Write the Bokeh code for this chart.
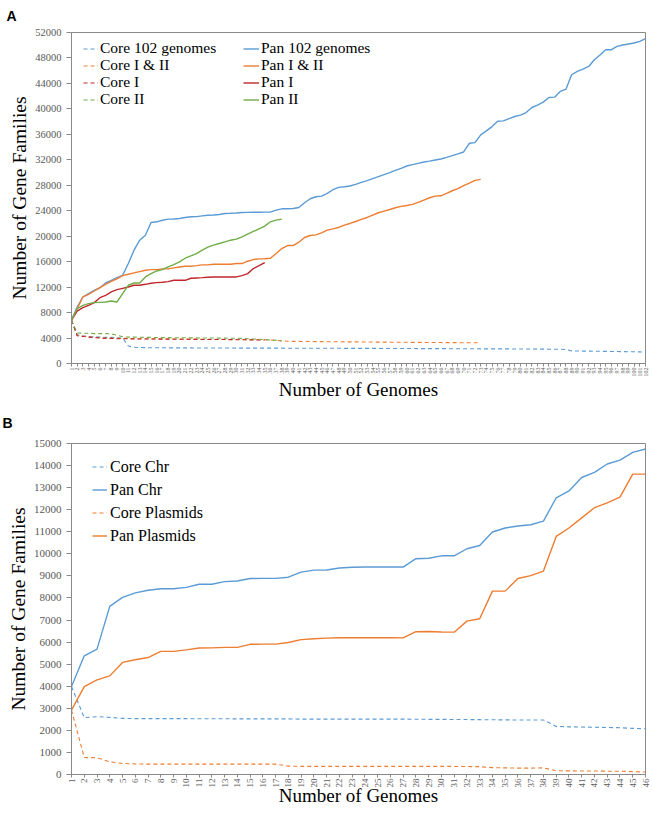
import math
from bokeh.plotting import figure
from bokeh.models import Range1d, FixedTicker, Legend, LegendItem, Title
from bokeh.layouts import column
from bokeh.embed import file_html
from bokeh.resources import INLINE

# ---------------- Panel A data ----------------
genomes_a = list(range(1, 103))
y_ticks_a = [0, 4000, 8000, 12000, 16000, 20000, 24000, 28000, 32000, 36000, 40000, 44000, 48000, 52000]

pan_102 = [6800, 8870, 10450, 10970, 11500, 11900, 12650, 13070, 13490, 13860,
           15700, 17800, 19370, 20160, 22150, 22260, 22500, 22680, 22700, 22780,
           22940, 23050, 23080, 23200, 23300, 23320, 23400, 23570, 23600, 23650,
           23730, 23740, 23760, 23770, 23780, 23780, 24100, 24300, 24320, 24360,
           24500, 25250, 25880, 26200, 26300, 26720, 27300, 27670, 27770, 27880,
           28140, 28460, 28720, 29030, 29350, 29660, 29980, 30350, 30660, 31030,
           31240, 31450, 31660, 31800, 31970, 32130, 32390, 32660, 32920, 33230,
           34600, 34700, 35910, 36540, 37220, 38060, 38120, 38480, 38800, 39010,
           39430, 40220, 40580, 41060, 41790, 41840, 42740, 43100, 45360, 45890,
           46250, 46670, 47720, 48460, 49300, 49300, 49820, 50030, 50190, 50350,
           50610, 51030]
core_102 = [6800, 4500, 4350, 4250, 4200, 4150, 4100, 4100, 4050, 4000,
            2750, 2560, 2510, 2490, 2480, 2470, 2470, 2460, 2460, 2450,
            2450, 2450, 2440, 2440, 2440, 2430, 2430, 2430, 2430, 2420,
            2420, 2420, 2420, 2420, 2410, 2410, 2410, 2410, 2400, 2400,
            2400, 2400, 2400, 2400, 2390, 2390, 2390, 2390, 2380, 2380,
            2380, 2380, 2370, 2370, 2370, 2360, 2360, 2360, 2350, 2350,
            2350, 2340, 2340, 2340, 2330, 2330, 2330, 2320, 2320, 2320,
            2310, 2310, 2300, 2300, 2300, 2290, 2290, 2290, 2280, 2280,
            2270, 2270, 2260, 2260, 2250, 2250, 2240, 2200, 1980, 1960,
            1950, 1940, 1930, 1920, 1900, 1890, 1880, 1860, 1850, 1840,
            1820, 1800]
pan_12 = [6800, 8600, 10450, 10870, 11390, 11920, 12440, 12920, 13280, 13800,
          14020, 14230, 14440, 14650, 14750, 14750, 14860, 14860, 15020, 15170,
          15280, 15280, 15380, 15490, 15500, 15590, 15600, 15600, 15600, 15700,
          15700, 16070, 16330, 16430, 16450, 16540, 17270, 18060, 18530, 18530,
          19060, 19790, 20110, 20210, 20530, 20950, 21150, 21370, 21740, 22000,
          22310, 22630, 22940, 23310, 23680, 23940, 24200, 24470, 24680, 24830,
          24990, 25300, 25670, 26040, 26300, 26350, 26720, 27140, 27460, 27930,
          28350, 28770, 28920]
core_12 = [6800, 4400, 4300, 4200, 4100, 4050, 4000, 4000, 3950, 3950,
           3920, 3900, 3900, 3880, 3880, 3870, 3860, 3850, 3850, 3840,
           3830, 3830, 3820, 3810, 3800, 3800, 3790, 3780, 3780, 3770,
           3760, 3750, 3740, 3730, 3720, 3700, 3650, 3550, 3500, 3480,
           3470, 3460, 3450, 3440, 3430, 3420, 3420, 3410, 3400, 3400,
           3390, 3380, 3380, 3370, 3360, 3360, 3350, 3340, 3340, 3330,
           3320, 3320, 3310, 3300, 3300, 3290, 3280, 3280, 3270, 3260,
           3260, 3250, 3250]
pan_1 = [6800, 8240, 8770, 9140, 9560, 10340, 10710, 11240, 11600, 11810,
         12020, 12290, 12290, 12440, 12600, 12700, 12760, 12860, 13070, 13070,
         13070, 13390, 13440, 13490, 13550, 13600, 13600, 13600, 13600, 13600,
         13800, 14120, 14910, 15380, 15860]
core_1 = [6800, 4350, 4250, 4150, 4050, 4000, 3950, 3950, 3900, 3900,
          3880, 3870, 3860, 3850, 3850, 3840, 3830, 3830, 3820, 3810,
          3800, 3800, 3790, 3780, 3780, 3770, 3760, 3760, 3750, 3740,
          3730, 3720, 3710, 3700, 3690]
pan_2 = [6800, 8600, 9140, 9400, 9560, 9610, 9660, 9820, 9660, 10970,
         12290, 12650, 12650, 13600, 14120, 14540, 14750, 15170, 15540, 15960,
         16540, 16900, 17270, 17800, 18270, 18590, 18850, 19110, 19370, 19530,
         19900, 20320, 20740, 21160, 21580, 22260, 22520, 22680]
core_2 = [6800, 4800, 4750, 4750, 4700, 4700, 4700, 4650, 4450, 4200,
          4150, 4150, 4120, 4100, 4100, 4080, 4070, 4060, 4050, 4050,
          4040, 4030, 4020, 4010, 4000, 4000, 3990, 3980, 3970, 3960,
          3950, 3900, 3850, 3800, 3750, 3700, 3650, 3600]

# ---------------- Panel B data ----------------
genomes_b = list(range(1, 47))
y_ticks_b = [0, 1000, 2000, 3000, 4000, 5000, 6000, 7000, 8000, 9000, 10000,
             11000, 12000, 13000, 14000, 15000]
pan_chr = [3985, 5380, 5680, 7620, 8030, 8230, 8350, 8420, 8420, 8480,
           8620, 8620, 8740, 8770, 8880, 8890, 8890, 8940, 9170, 9260,
           9270, 9360, 9390, 9400, 9400, 9400, 9400, 9780, 9800, 9910,
           9910, 10230, 10380, 10990, 11170, 11260, 11320, 11480, 12540, 12850,
           13460, 13690, 14070, 14250, 14600, 14750]
core_chr = [3985, 2575, 2620, 2590, 2545, 2530, 2530, 2530, 2530, 2530,
            2525, 2525, 2525, 2520, 2520, 2520, 2520, 2520, 2510, 2510,
            2510, 2510, 2510, 2510, 2510, 2510, 2510, 2505, 2500, 2500,
            2490, 2490, 2485, 2480, 2475, 2470, 2470, 2470, 2180, 2160,
            2150, 2140, 2130, 2120, 2090, 2070]
pan_pl = [2920, 3985, 4290, 4470, 5080, 5200, 5300, 5580, 5580, 5650,
          5730, 5740, 5760, 5760, 5900, 5910, 5910, 5980, 6110, 6150,
          6180, 6200, 6200, 6200, 6200, 6200, 6190, 6470, 6480, 6460,
          6450, 6950, 7060, 8310, 8310, 8880, 9010, 9220, 10790, 11170,
          11630, 12090, 12310, 12570, 13610, 13610]
core_pl = [2920, 770, 760, 575, 500, 480, 470, 470, 470, 470,
           470, 470, 470, 470, 470, 470, 470, 380, 370, 370,
           370, 370, 370, 370, 370, 370, 370, 370, 370, 370,
           365, 360, 355, 310, 300, 290, 290, 300, 170, 165,
           160, 160, 150, 150, 130, 110]

BLUE = "#5B9BD5"
ORANGE = "#ED7D31"
RED = "#C0282D"
GREEN = "#70AD47"
AXIS = "#898989"
TICKTXT = "#595959"
SERIF = "Liberation Serif"
DASH = "4 3"


def style(p, xticks, yticks, xlab_size, ylab_size, xtick_size, ytick_size, xlab_standoff):
    p.xgrid.visible = False
    p.ygrid.visible = False
    p.outline_line_color = AXIS
    p.outline_line_width = 1
    for ax in (p.xaxis[0], p.yaxis[0]):
        ax.axis_line_color = AXIS
        ax.major_tick_line_color = AXIS
        ax.minor_tick_line_color = None
        ax.major_label_text_color = TICKTXT
        ax.major_label_text_font = SERIF
        ax.axis_label_text_font = SERIF
        ax.axis_label_text_font_style = "normal"
        ax.axis_label_text_color = "black"
        ax.major_tick_in = 0
    p.xaxis.ticker = FixedTicker(ticks=xticks)
    p.yaxis.ticker = FixedTicker(ticks=yticks)
    p.xaxis.major_label_orientation = math.pi / 2
    p.xaxis.major_label_text_font_size = xtick_size
    p.yaxis.major_label_text_font_size = ytick_size
    p.xaxis.major_tick_out = 3
    p.yaxis.major_tick_out = 5
    p.xaxis.major_label_standoff = 1
    p.yaxis.major_label_standoff = 5
    p.xaxis.axis_label = "Number of Genomes"
    p.yaxis.axis_label = "Number of Gene Families"
    p.xaxis.axis_label_text_font_size = xlab_size
    p.yaxis.axis_label_text_font_size = ylab_size
    p.xaxis.axis_label_standoff = xlab_standoff
    p.yaxis.axis_label_standoff = 2


def make_legend(items, x, y, row_h, glyph_w, standoff, font_size):
    lg = Legend(items=items, location=(x, y), orientation="vertical")
    lg.border_line_color = None
    lg.background_fill_alpha = 0
    lg.padding = 0
    lg.margin = 0
    lg.spacing = 0
    lg.label_height = row_h
    lg.glyph_height = row_h
    lg.glyph_width = glyph_w
    lg.label_standoff = standoff
    lg.label_text_font = SERIF
    lg.label_text_font_size = font_size
    lg.label_text_color = "black"
    return lg


def panel_title(text, offset, standoff):
    return Title(text=text, align="left", offset=offset, standoff=standoff,
                 vertical_align="top",
                 text_font="Liberation Sans", text_font_style="bold",
                 text_font_size="14px", text_color="black")


# ---------------- Figure A ----------------
pA = figure(width=652, height=403, x_range=Range1d(1, 102), y_range=Range1d(0, 52000),
            output_backend="svg", toolbar_location=None,
            min_border_left=68, min_border_right=7, min_border_top=0, min_border_bottom=40)
pA.add_layout(panel_title("A", -65, 14), "above")
style(pA, genomes_a, y_ticks_a, "19px", "19.5px", "6px", "10.5px", -1)

rc102 = pA.line(genomes_a, core_102, line_color=BLUE, line_width=1.1, line_dash=DASH)
rc12 = pA.line(genomes_a[:len(core_12)], core_12, line_color=ORANGE, line_width=1.1, line_dash=DASH)
rc1 = pA.line(genomes_a[:len(core_1)], core_1, line_color=RED, line_width=1.1, line_dash=DASH)
rc2 = pA.line(genomes_a[:len(core_2)], core_2, line_color=GREEN, line_width=1.1, line_dash=DASH)
rp102 = pA.line(genomes_a, pan_102, line_color=BLUE, line_width=1.4)
rp12 = pA.line(genomes_a[:len(pan_12)], pan_12, line_color=ORANGE, line_width=1.4)
rp1 = pA.line(genomes_a[:len(pan_1)], pan_1, line_color=RED, line_width=1.4)
rp2 = pA.line(genomes_a[:len(pan_2)], pan_2, line_color=GREEN, line_width=1.4)

# two-column legend, one legend per row so the row pitch matches the original
rows_y = [306, 289, 272, 255]
core_items = [("Core 102 genomes", rc102), ("Core I & II", rc12), ("Core I", rc1), ("Core II", rc2)]
pan_items = [("Pan 102 genomes", rp102), ("Pan I & II", rp12), ("Pan I", rp1), ("Pan II", rp2)]
for (lab, r), yy in zip(core_items, rows_y):
    pA.add_layout(make_legend([LegendItem(label=lab, renderers=[r])], 12, yy, 17, 15, 2, "15.5px"))
for (lab, r), yy in zip(pan_items, rows_y):
    pA.add_layout(make_legend([LegendItem(label=lab, renderers=[r])], 172, yy, 17, 16, 2, "15.5px"))

# ---------------- Figure B ----------------
pB = figure(width=652, height=409, x_range=Range1d(1, 46), y_range=Range1d(0, 15000),
            output_backend="svg", toolbar_location=None,
            min_border_left=71, min_border_right=4, min_border_top=0, min_border_bottom=38)
pB.add_layout(panel_title("B", -69, 22), "above")
style(pB, genomes_b, y_ticks_b, "19px", "19.5px", "9px", "11px", -6)

rcc = pB.line(genomes_b, core_chr, line_color=BLUE, line_width=1.1, line_dash=DASH)
rpc = pB.line(genomes_b, pan_chr, line_color=BLUE, line_width=1.4)
rcp = pB.line(genomes_b, core_pl, line_color=ORANGE, line_width=1.1, line_dash=DASH)
rpp = pB.line(genomes_b, pan_pl, line_color=ORANGE, line_width=1.4)

legB = make_legend([LegendItem(label="Core Chr", renderers=[rcc]),
                    LegendItem(label="Pan Chr", renderers=[rpc]),
                    LegendItem(label="Core Plasmids", renderers=[rcp]),
                    LegendItem(label="Pan Plasmids", renderers=[rpp])],
                   21, 227, 23, 15, 3, "16px")
pB.add_layout(legB)

layout = column(pA, pB, spacing=0)
open("out.html", "w").write(file_html(layout, INLINE))
